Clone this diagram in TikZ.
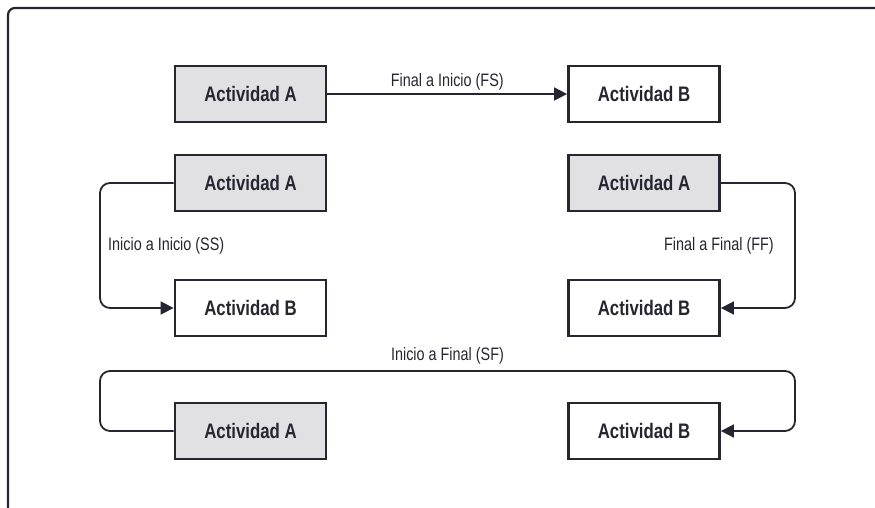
\documentclass[tikz,border=0pt]{standalone}
\usepackage{fontspec}
\setmainfont{Liberation Sans}[FakeStretch=0.8]
\usepackage{tikz}
\usetikzlibrary{arrows.meta}

\definecolor{boxgray}{HTML}{E1E1E3}
\definecolor{inkdark}{HTML}{262630}

\tikzset{
  act/.style={draw=inkdark, line width=2.8pt, minimum width=151pt, minimum height=56pt,
    inner sep=0pt, font=\fontsize{21}{23}\selectfont\bfseries, text=inkdark},
  actA/.style={act, fill=boxgray},
  actB/.style={act, fill=white},
  dep/.style={draw=inkdark, line width=1.8pt, rounded corners=10pt,
    -{Triangle[length=13pt, width=13pt]}},
  lbl/.style={font=\fontsize{18}{20}\selectfont, text=inkdark, inner sep=2pt},
}

\begin{document}
\begin{tikzpicture}[x=1pt, y=-1pt]

    \useasboundingbox (0, 0) rectangle (875, 508);
    \draw [draw=inkdark, line width=2.2pt, rounded corners=7pt] (8, 515) -- (8, 8) -- (880, 8);

    \node[actA] (a1) at (250.5, 94) {Actividad A};
    \node[actB] (b1) at (644, 94) {Actividad B};
    \node[actA] (a2) at (250.5, 183) {Actividad A};
    \node[actA] (a3) at (644, 183) {Actividad A};
    \node[actB] (b2) at (250.5, 308) {Actividad B};
    \node[actB] (b3) at (644, 308) {Actividad B};
    \node[actA] (a4) at (250.5, 431) {Actividad A};
    \node[actB] (b4) at (644, 431) {Actividad B};

    \coordinate (ss) at (100, 246);
    \coordinate (ff) at (795, 246);
    \coordinate (sfl) at (100, 371);
    \coordinate (sfr) at (795, 371);

    \draw [dep] (a1) to node[lbl, above, yshift=1pt] {Final a Inicio (FS)} (b1);
    \draw [dep] (a2.west) -| (ss) |- (b2.west);
    \draw [dep] (a3.east) -| (ff) |- (b3.east);
    \draw [dep] (a4.west) -| (sfl) -- (sfr) |- (b4.east);

    \node[lbl, anchor=west] (ssl) at (106, 246) {Inicio a Inicio (SS)};
    \node[lbl, anchor=east] (ffl) at (776, 246) {Final a Final (FF)};
    \node[lbl, anchor=south] (sfl2) at (447.5, 366) {Inicio a Final (SF)};

\end{tikzpicture}
\end{document}
